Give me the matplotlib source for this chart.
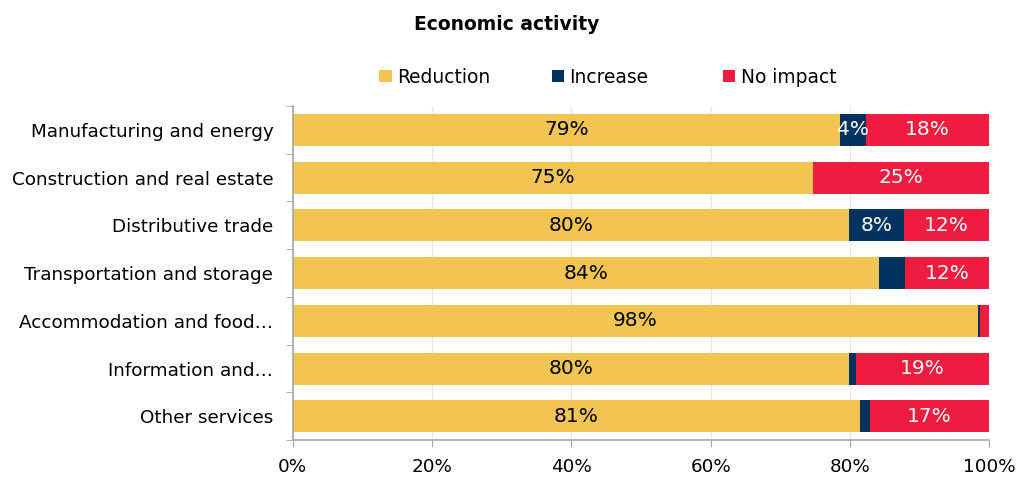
import matplotlib.pyplot as plt
from matplotlib.patches import Patch
import numpy as np

categories = [
    "Manufacturing and energy",
    "Construction and real estate",
    "Distributive trade",
    "Transportation and storage",
    "Accommodation and food…",
    "Information and…",
    "Other services",
]
reduction = [78.6, 74.7, 79.9, 84.2, 98.4, 79.9, 81.4]
increase = [3.7, 0.0, 7.8, 3.7, 0.3, 0.9, 1.4]
no_impact = [17.7, 25.3, 12.3, 12.1, 1.3, 19.2, 17.2]
# which increase labels are printed in the source chart
increase_labelled = [True, False, True, False, False, False, False]

series = [
    ("Reduction", reduction, "#F2C552", "black"),
    ("Increase", increase, "#00335F", "white"),
    ("No impact", no_impact, "#EE1C3E", "white"),
]

plt.rcParams["font.family"] = "DejaVu Sans"

fig = plt.figure(figsize=(10.2, 4.79), dpi=100)
ax = fig.add_axes([0.287, 0.081, 0.683, 0.698])

ypos = np.arange(len(categories))
left = np.zeros(len(categories))
for name, values, color, txt_color in series:
    vals = np.array(values)
    ax.barh(ypos, vals, left=left, height=0.67, color=color, label=name, zorder=2)
    for i, v in enumerate(vals):
        if name == "Increase":
            show = increase_labelled[i]
        else:
            show = v >= 5
        if show:
            ax.text(left[i] + v / 2, i, f"{v:.0f}%", ha="center", va="center",
                    color=txt_color, fontsize=14.5, zorder=3)
    left += vals

ax.set_xlim(0, 100)
ax.set_ylim(len(categories) - 0.5, -0.5)
ax.set_xticks(np.arange(0, 101, 20))
ax.set_xticklabels([f"{x}%" for x in range(0, 101, 20)], fontsize=13.2)
ax.set_yticks(ypos)
ax.set_yticklabels(categories, fontsize=13.2)
ax.set_yticks(np.arange(-0.5, len(categories)), minor=True)
ax.tick_params(axis="y", which="major", length=0, pad=14)
ax.tick_params(axis="y", which="minor", length=5, color="#A6A6A6", direction="out")
ax.tick_params(axis="x", length=5, color="#A6A6A6", pad=8)
ax.grid(axis="x", color="#E6E6E6", linewidth=1, zorder=0)
ax.set_axisbelow(True)
for side in ["top", "right"]:
    ax.spines[side].set_visible(False)
for side in ["left", "bottom"]:
    ax.spines[side].set_color("#A6A6A6")
    ax.spines[side].set_linewidth(1.2)

fig.text(0.497, 0.948, "Economic activity", ha="center", va="center",
         fontsize=13.5, fontweight="bold")

# Excel-style legend: equally spaced entries
legend_x = [0.372, 0.541, 0.709]
for (name, _, color, _), lx in zip(series, legend_x):
    fig.legend(handles=[Patch(facecolor=color, label=name)], loc="center left",
               bbox_to_anchor=(lx, 0.839), frameon=False, fontsize=13.4,
               handlelength=0.65, handleheight=0.65, handletextpad=0.3,
               borderpad=0, borderaxespad=0)

fig.savefig("out.png", dpi=100)
